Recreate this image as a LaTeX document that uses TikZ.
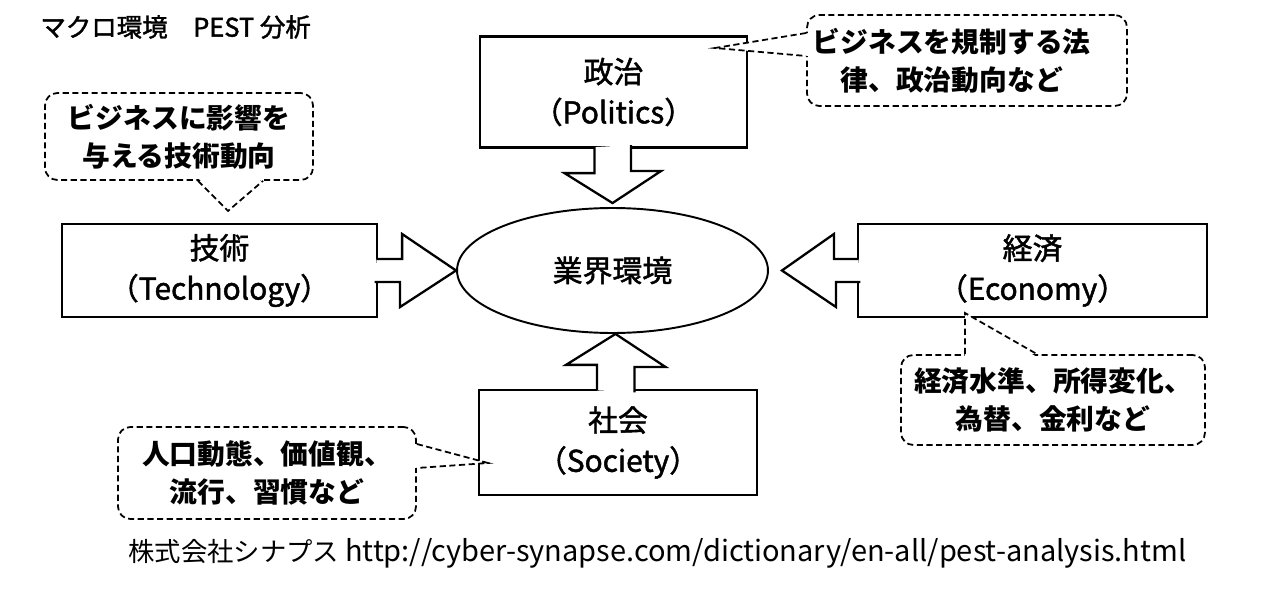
\documentclass[tikz,border=0pt]{standalone}
\usepackage{fontspec}
\setmainfont{Noto Sans CJK JP}
\newfontfamily\medfont[FakeBold=1.6]{Noto Sans CJK JP}
\usetikzlibrary{shapes, calc, positioning}

\begin{document}
\begin{tikzpicture}[x=0.02cm, y=-0.02cm,
          factor/.style={rectangle, draw, line width=1.3pt, minimum height=1.86cm, align=center, font=\medfont\fontsize{17}{23}\selectfont},
          core/.style={ellipse, draw, line width=1.1pt, minimum width=6.22cm, minimum height=2.5cm, inner sep=0pt, font=\medfont\fontsize{17}{20}\selectfont},
          blockarrow/.style={draw, fill=white, line width=1.3pt, line join=miter},
          note/.style={rectangle, draw, fill=white, dash pattern=on 3.5pt off 2pt, line width=1pt, rounded corners=7pt, align=center, inner sep=0pt, font=\bfseries\fontsize{15.8}{21.5}\selectfont},
          tail/.style={dash pattern=on 3.5pt off 2pt, line width=1pt},
          caption/.style={anchor=west, inner sep=0pt}
        ]
          \useasboundingbox (0,0) rectangle (1280,588);
          \node (title) [caption, font=\medfont\fontsize{14.5}{17}\selectfont] at (40,27) {マクロ環境　PEST 分析};

          \node (env) [core] at (612.5,270.5) {業界環境};
          \node (pol) [factor, minimum width=5.34cm, minimum height=2.22cm] at (613.5,92) {政治\\（Politics）};
          \node (tech) [factor, minimum width=6.3cm] at (219.5,270.5) {技術\\（Technology）};
          \node (eco) [factor, minimum width=6.98cm] at (1032.5,270.5) {経済\\（Economy）};
          \node (soc) [factor, minimum width=5.56cm, minimum height=2.1cm] at (618,442.5) {社会\\（Society）};

          % block arrows into the core
          \draw[blockarrow] ($(pol.south)+(-19,-1.5)$) -- ++(0,26) -- ++(-30,0) -- ($(env.north)+(0,-4)$) -- ++(48.5,-32) -- ++(-30,0) -- ++(0,-26);
          \draw[blockarrow] ($(tech.east)+(-1.5,-11.5)$) -- ++(25.5,0) -- ++(0,-25) -- (env.west) -- ++(-56,36.5) -- ++(0,-25) -- ++(-25.5,0);
          \draw[blockarrow] ($(eco.west)+(1.5,-11.5)$) -- ++(-24.5,0) -- ++(0,-25) -- ($(env.east)+(13,0)$) -- ++(54,36.5) -- ++(0,-25) -- ++(24.5,0);
          \draw[blockarrow] ($(soc.north)+(-21,1.5)$) -- ++(0,-25.5) -- ++(-31,0) -- ($(env.south)+(3,0)$) -- ++(50,33) -- ++(-31,0) -- ++(0,25.5);

          % callouts
          \node (techNote) [note, minimum width=5.36cm, minimum height=1.74cm] at (179,136.5) {ビジネスに影響を\\与える技術動向};
          \coordinate (techTip) at (228,211);
          \fill[white] ($(techNote.south)+(19,-3)$) -- (techTip) -- ($(techNote.south)+(84,-3)$) -- cycle;
          \draw[tail] ($(techNote.south)+(19,0)$) -- (techTip) -- ($(techNote.south)+(84,0)$);

          \node (polNote) [note, minimum width=6.4cm, minimum height=1.82cm] at (967,60.5) {ビジネスを規制する法\kern1.1em\\律、政治動向など\kern1.1em};
          \coordinate (polTip) at (715,48);
          \fill[white] ($(polNote.west)+(3,-27.5)$) -- (polTip) -- ($(polNote.west)+(3,-4.5)$) -- cycle;
          \draw[tail] ($(polNote.west)+(0,-27.5)$) -- (polTip) -- ($(polNote.west)+(0,-4.5)$);

          \node (socNote) [note, minimum width=5.96cm, minimum height=1.84cm] at (267,473) {人口動態、価値観、\\流行、習慣など};
          \coordinate (socTip) at (488,463);
          \fill[white] ($(socNote.east)+(-3,-29)$) -- (socTip) -- ($(socNote.east)+(-3,-5)$) -- cycle;
          \draw[tail] ($(socNote.east)+(0,-29)$) -- (socTip) -- ($(socNote.east)+(0,-5)$);

          \node (ecoNote) [note, minimum width=6.08cm, minimum height=1.8cm] at (1053,400) {経済水準、所得変化、\\為替、金利など};
          \coordinate (ecoTip) at (965,313);
          \fill[white] ($(ecoNote.north)+(-88,3)$) -- (ecoTip) -- ($(ecoNote.north)+(-16,3)$) -- cycle;
          \draw[tail] ($(ecoNote.north)+(-88,0)$) -- (ecoTip) -- ($(ecoNote.north)+(-16,0)$);

          \node (source) [caption, font=\fontsize{15}{18}\selectfont] at (128,553) {株式会社シナプス {\fontsize{16.5}{18}\selectfont http://cyber-synapse.com/dictionary/en-all/pest-analysis.html}};
        \end{tikzpicture}
\end{document}
